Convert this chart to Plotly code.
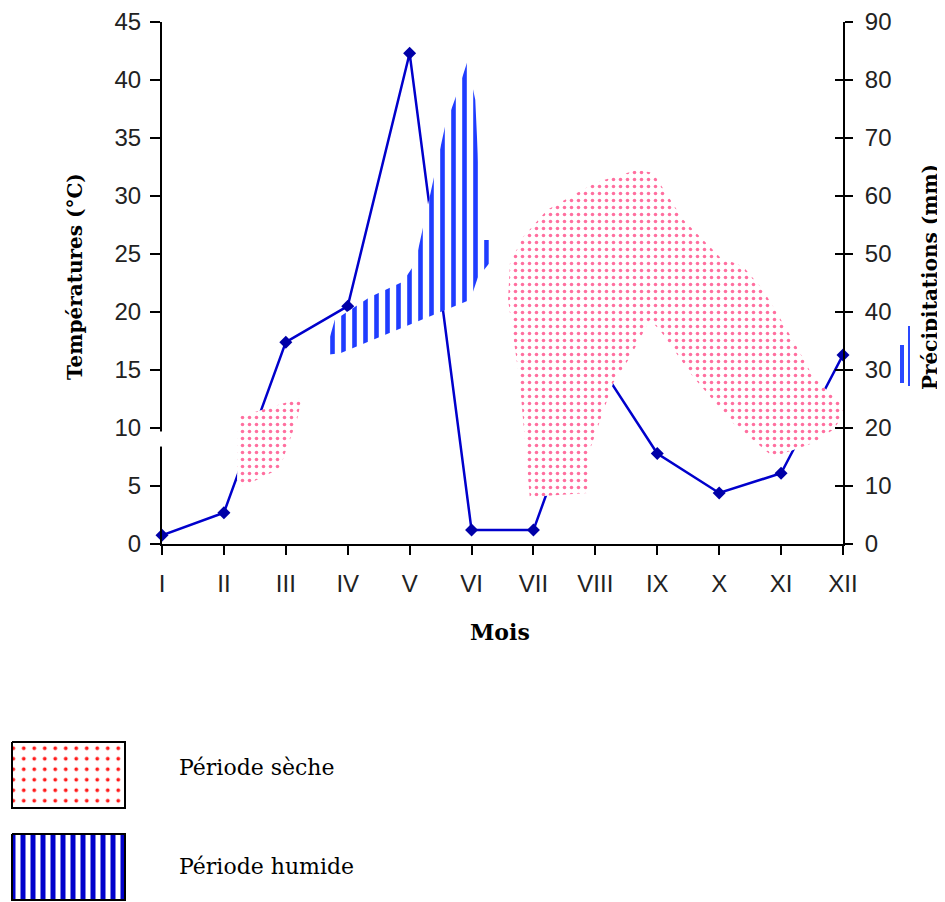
import plotly.graph_objects as go

# ---------------- data ----------------
months = ["I", "II", "III", "IV", "V", "VI", "VII", "VIII", "IX", "X", "XI", "XII"]
month_pos = [1, 2, 3, 4, 5, 6, 7, 8, 9, 10, 11, 12]
precip_mm = [1.5, 5.4, 34.8, 41.0, 84.6, 2.4, 2.4, 32.0, 15.6, 8.8, 12.2, 32.6]

# outline of the hatched "humid" area (x in month units, y in mm)
humid_x = [3.63, 3.79, 4.36, 4.89, 5.09, 5.25, 5.41, 5.57, 5.77, 5.93, 6.06, 6.10, 6.14, 6.28, 6.28, 6.10, 5.98, 3.88, 3.63]
humid_y = [32.6, 38.6, 42.6, 45.2, 48.4, 56.4, 64.1, 71.9, 77.8, 83.1, 76.6, 67.4, 52.4, 52.4, 48.3, 45.9, 42.1, 32.9, 32.6]

# outlines of the dotted "dry" areas
dry1_x = [2.23, 3.26, 3.18, 2.91, 2.79, 2.42, 2.21, 2.23]
dry1_y = [21.9, 25.2, 21.4, 13.3, 12.4, 10.5, 9.8, 21.9]

dry2_x = [6.94, 6.78, 6.59, 6.62, 6.83, 7.22, 7.70, 8.03, 8.67, 8.93, 9.42, 10.01, 10.39, 10.71,
          11.19, 11.52, 12.07, 11.84, 11.52, 10.87, 10.22, 9.58, 9.04, 8.88, 8.56, 8.29, 7.91, 7.87, 6.94]
dry2_y = [8.1, 27.8, 42.1, 48.4, 52.9, 57.6, 60.5, 62.4, 64.5, 64.0, 55.9, 49.5, 47.8, 43.8,
          35.2, 28.8, 23.1, 19.7, 17.4, 15.0, 20.9, 28.8, 36.9, 38.6, 32.2, 27.8, 16.2, 8.8, 8.1]

temp_ticks = [0, 5, 10, 15, 20, 25, 30, 35, 40, 45]
precip_ticks = [0, 10, 20, 30, 40, 50, 60, 70, 80, 90]

legend_labels = ["Période sèche", "Période humide"]

# ---------------- layout helpers ----------------
# the page body has an 8px margin, so the figure starts at (8, 8) in the window
OFF = 8
W, H = 945 - OFF, 902 - OFF
PL, PR, PT, PB = 162, 843, 22, 544   # plot area in window pixels


def px(x):
    return (x - OFF) / W


def py(y):
    return 1 - (y - OFF) / H


DRY_PAT = dict(shape=".", fgcolor="#ff6f9f", bgcolor="white", size=7, solidity=0.2, fgopacity=1)
HUM_PAT = dict(shape="|", fgcolor="#1f3cff", bgcolor="white", size=11, solidity=0.42, fgopacity=1)

fig = go.Figure()

# dummy trace for the left axis
fig.add_trace(go.Scatter(x=[1, 12], y=[0, 45], yaxis="y", mode="markers",
                         marker=dict(opacity=0), hoverinfo="skip", showlegend=False))

# precipitation line
fig.add_trace(go.Scatter(x=month_pos, y=precip_mm, yaxis="y2", mode="lines+markers",
                         line=dict(color="#0000cc", width=2.5),
                         marker=dict(symbol="diamond", size=10, color="#0000a8"),
                         cliponaxis=False, showlegend=False))

# shaded periods (drawn over the line, like the reference)
for sx, sy, pat in [(dry1_x, dry1_y, DRY_PAT), (dry2_x, dry2_y, DRY_PAT), (humid_x, humid_y, HUM_PAT)]:
    fig.add_trace(go.Scatter(x=sx, y=sy, yaxis="y2", mode="lines", fill="toself",
                             line=dict(width=0, color="rgba(0,0,0,0)"), fillcolor="white",
                             fillpattern=pat, showlegend=False, hoverinfo="skip"))

# dummy trace for the inside tick overlay (gives crossing ticks on the right axis)
fig.add_trace(go.Scatter(x=[1, 12], y=[0, 90], yaxis="y3", mode="markers",
                         marker=dict(opacity=0), hoverinfo="skip", showlegend=False))

# legend swatches in a hidden pixel-space subplot
sw_x = [12, 125, 125, 12, 12]
fig.add_trace(go.Scatter(x=sw_x, y=[742, 742, 808, 808, 742], xaxis="x2", yaxis="y4",
                         mode="lines", fill="toself", line=dict(color="black", width=2),
                         fillcolor="white",
                         fillpattern=dict(shape=".", fgcolor="#ff1a1a", bgcolor="white", size=10.5,
                                          solidity=0.1, fgopacity=1),
                         showlegend=False, hoverinfo="skip"))
fig.add_trace(go.Scatter(x=sw_x, y=[834, 834, 900, 900, 834], xaxis="x2", yaxis="y4",
                         mode="lines", fill="toself", line=dict(color="black", width=2),
                         fillcolor="white",
                         fillpattern=dict(shape="|", fgcolor="#0000cc", bgcolor="white", size=10,
                                          solidity=0.5, fgopacity=1),
                         showlegend=False, hoverinfo="skip"))

tickfont = dict(family="Liberation Sans", size=24, color="#222222")

fig.update_layout(
    width=W, height=H, autosize=False,
    margin=dict(l=0, r=0, t=0, b=0),
    paper_bgcolor="white", plot_bgcolor="rgba(0,0,0,0)",
    showlegend=False,
    xaxis=dict(domain=[px(PL), px(PR)], range=[1, 12], tickmode="array",
               tickvals=month_pos, ticktext=months, ticks="outside", ticklen=9,
               tickwidth=2, tickcolor="black", showline=True, linecolor="black",
               linewidth=2, showgrid=False, zeroline=False, tickfont=tickfont,
               ticklabelstandoff=8, anchor="y", automargin=False),
    yaxis=dict(domain=[py(PB), py(PT)], range=[0, 45], tickmode="array",
               tickvals=temp_ticks, ticks="outside", ticklen=10, tickwidth=2,
               tickcolor="black", showline=True, linecolor="black", linewidth=2,
               showgrid=False, zeroline=False, tickfont=tickfont,
               ticklabelstandoff=4, anchor="x", automargin=False),
    yaxis2=dict(range=[0, 90], overlaying="y", side="right", anchor="x",
                tickmode="array", tickvals=precip_ticks, ticks="outside", ticklen=8,
                tickwidth=2, tickcolor="black", showline=True, linecolor="black",
                linewidth=2, showgrid=False, zeroline=False, tickfont=tickfont,
                ticklabelstandoff=7, automargin=False),
    yaxis3=dict(range=[0, 90], overlaying="y", side="right", anchor="x",
                tickmode="array", tickvals=precip_ticks, ticks="inside", ticklen=8,
                tickwidth=2, tickcolor="black", showline=False, showgrid=False,
                zeroline=False, showticklabels=False, automargin=False),
    xaxis2=dict(domain=[0, 1], range=[OFF, OFF + W], visible=False, anchor="y4", fixedrange=True),
    yaxis4=dict(domain=[0, 1], range=[OFF + H, OFF], visible=False, anchor="x2", fixedrange=True),
)

title_font = dict(family="DejaVu Serif", size=20, color="black", weight="bold")
fig.add_annotation(text="Températures (°C)", textangle=-90, xref="paper", yref="paper",
                   x=px(75), y=py(277), xanchor="center", yanchor="middle",
                   showarrow=False, font=title_font)
fig.add_annotation(text="Précipitations (mm)", textangle=-90, xref="paper", yref="paper",
                   x=px(930), y=py(277), xanchor="center", yanchor="middle",
                   showarrow=False, font=title_font)
fig.add_annotation(text="Mois", xref="paper", yref="paper", x=px(500), y=py(632),
                   xanchor="center", yanchor="middle", showarrow=False,
                   font=dict(family="DejaVu Serif", size=22, color="black", weight="bold"))

leg_font = dict(family="DejaVu Serif", size=22, color="black")
fig.add_annotation(text=legend_labels[0], xref="paper", yref="paper", x=px(177), y=py(767),
                   xanchor="left", yanchor="middle", showarrow=False, font=leg_font)
fig.add_annotation(text=legend_labels[1], xref="paper", yref="paper", x=px(177), y=py(866),
                   xanchor="left", yanchor="middle", showarrow=False, font=leg_font)

# small break in the left axis line
fig.add_shape(type="rect", xref="paper", yref="y", x0=px(156), x1=px(168), y0=8.4, y1=9.7,
              fillcolor="white", line=dict(width=0), layer="above")
# stray hatch strokes right of the axis
fig.add_shape(type="line", xref="paper", yref="paper", x0=px(902), x1=px(902),
              y0=py(345), y1=py(383), line=dict(color="#2a48ff", width=4))
fig.add_shape(type="line", xref="paper", yref="paper", x0=px(909), x1=px(909),
              y0=py(326), y1=py(386), line=dict(color="#2a48ff", width=2))

fig.write_html("out.html")
